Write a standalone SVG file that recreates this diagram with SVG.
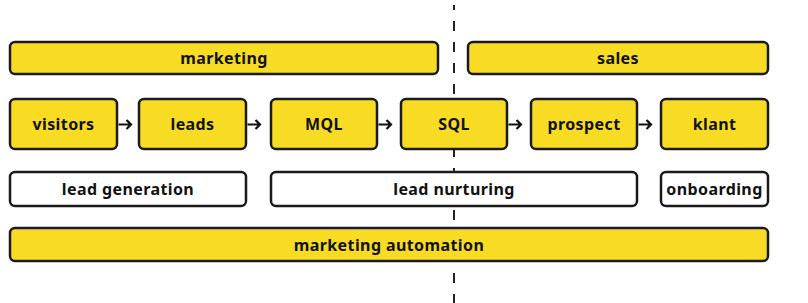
<svg xmlns="http://www.w3.org/2000/svg" width="808" height="303" viewBox="0 0 808 303">
<style>
.box{fill:#F8DC24;stroke:#1a1a1a;stroke-width:2.5}
.wbox{fill:#ffffff;stroke:#1a1a1a;stroke-width:2.5}
.t{font-family:"Noto Sans","DejaVu Sans",sans-serif;font-weight:700;font-size:16px;letter-spacing:0.4px;fill:#111;text-anchor:middle;dominant-baseline:central}
.arr{fill:none;stroke:#111;stroke-width:2.2;stroke-linecap:butt;stroke-linejoin:miter}
</style>
<rect width="808" height="303" fill="#ffffff"/>
<line x1="454" y1="5" x2="454" y2="303" stroke="#222" stroke-width="2" stroke-dasharray="10 11" stroke-dashoffset="5"/>
<g id="marketing"><rect class="box" x="10" y="42" width="428" height="32" rx="5"/><text class="t" x="224" y="58">marketing</text></g>
<g id="sales"><rect class="box" x="468" y="42" width="300" height="32" rx="5"/><text class="t" x="618" y="58">sales</text></g>
<g id="visitors"><rect class="box" x="10" y="99" width="107" height="50" rx="5"/><text class="t" x="63.5" y="124">visitors</text></g>
<g id="leads"><rect class="box" x="139" y="99" width="107" height="50" rx="5"/><text class="t" x="192.5" y="124">leads</text></g>
<g id="mql"><rect class="box" x="271" y="99" width="106" height="50" rx="5"/><text class="t" x="324" y="124">MQL</text></g>
<g id="sql"><rect class="box" x="401" y="99" width="106" height="50" rx="5"/><text class="t" x="454" y="124">SQL</text></g>
<g id="prospect"><rect class="box" x="531" y="99" width="106" height="50" rx="5"/><text class="t" x="584" y="124">prospect</text></g>
<g id="klant"><rect class="box" x="661" y="99" width="107" height="50" rx="5"/><text class="t" x="714.5" y="124">klant</text></g>
<g id="lead-generation"><rect class="wbox" x="10" y="172" width="236" height="34" rx="5"/><text class="t" x="128" y="189">lead generation</text></g>
<g id="lead-nurturing"><rect class="wbox" x="271" y="172" width="366" height="34" rx="5"/><text class="t" x="454" y="189">lead nurturing</text></g>
<g id="onboarding"><rect class="wbox" x="661" y="172" width="107" height="34" rx="5"/><text class="t" x="714.5" y="189">onboarding</text></g>
<g id="marketing-automation"><rect class="box" x="10" y="228" width="758" height="33" rx="5"/><text class="t" x="389" y="244.5">marketing automation</text></g>
<g id="connectors">
<path class="arr" d="M118.5 124.5 H131 M126.5 120 L131 124.5 L126.5 129"/>
<path class="arr" d="M247.5 124.5 H260 M255.5 120 L260 124.5 L255.5 129"/>
<path class="arr" d="M378.5 124.5 H391 M386.5 120 L391 124.5 L386.5 129"/>
<path class="arr" d="M508.5 124.5 H521 M516.5 120 L521 124.5 L516.5 129"/>
<path class="arr" d="M638.5 124.5 H651 M646.5 120 L651 124.5 L646.5 129"/>
</g>
</svg>
